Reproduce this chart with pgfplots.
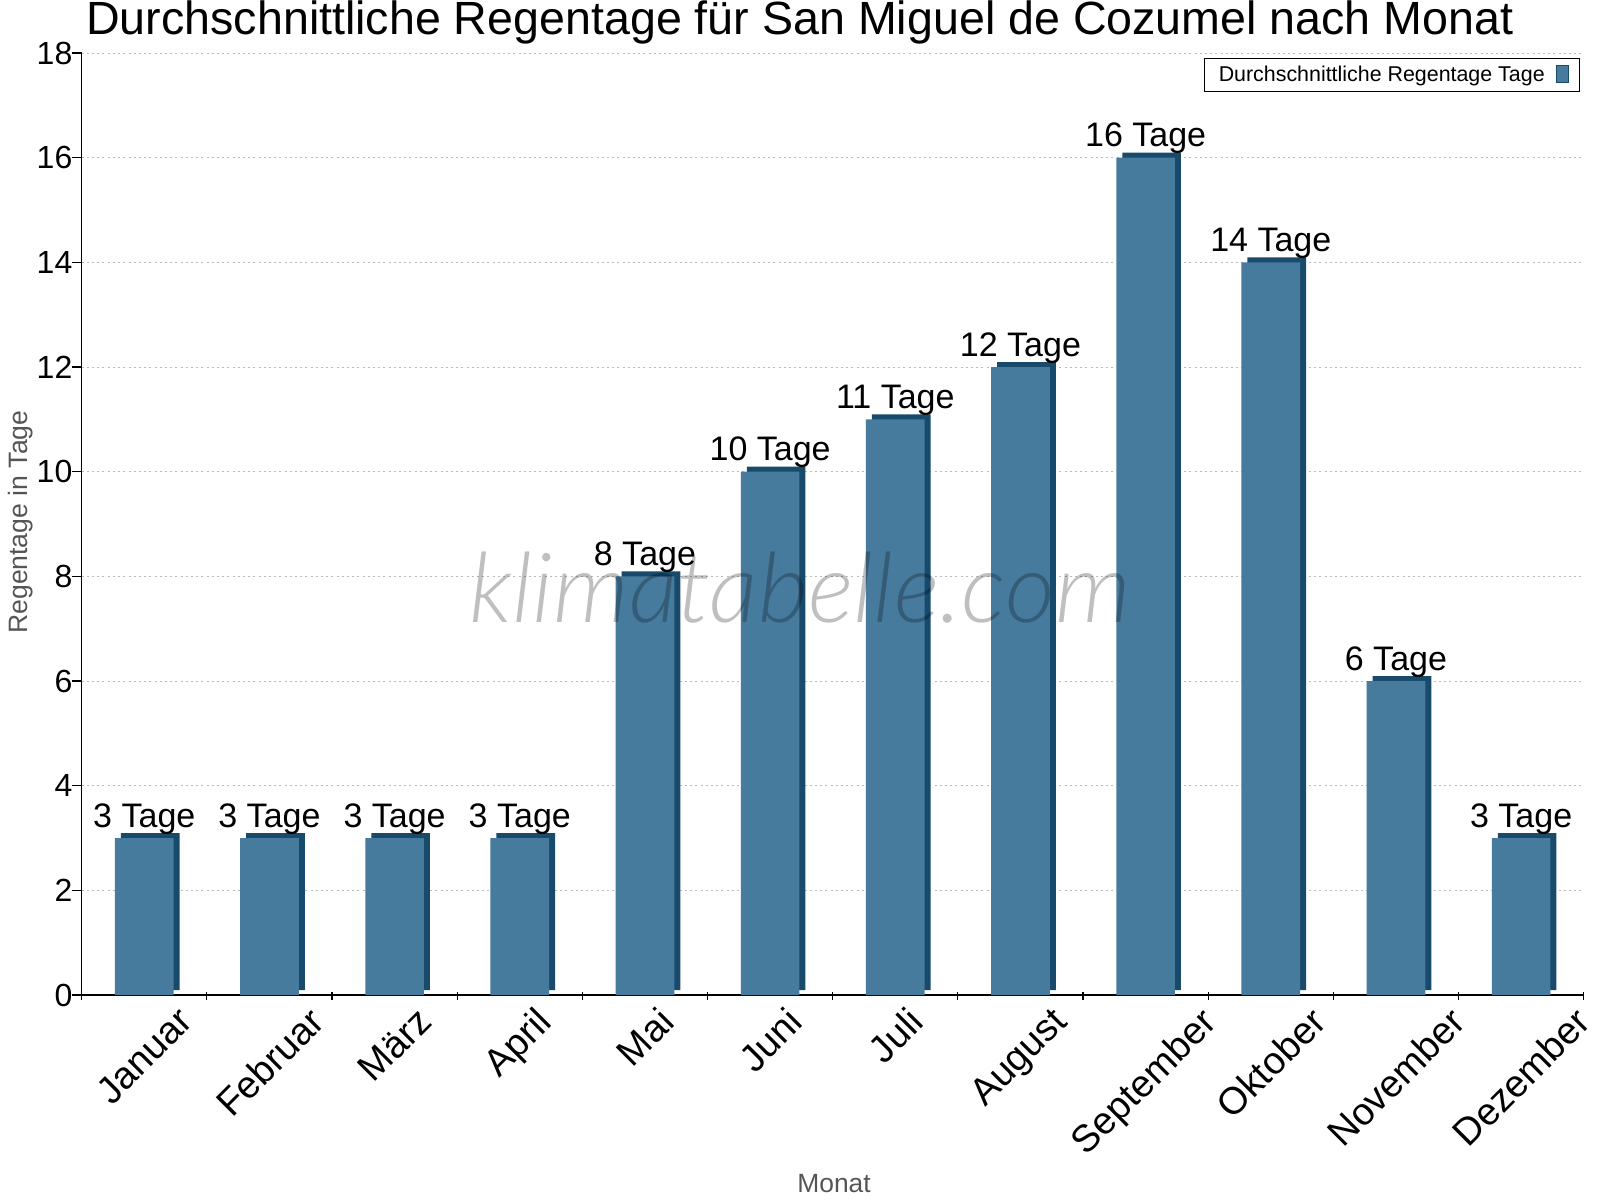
\documentclass[border=0pt]{standalone}
\usepackage{pgfplots}
\pgfplotsset{compat=1.18}
\usepackage{fontspec}
\setmainfont{Liberation Sans}
\newfontfamily\wmfont{Lato Light Italic}
\definecolor{barfront}{HTML}{467B9E}
\definecolor{bardark}{HTML}{184A6B}
\definecolor{lblgray}{HTML}{555555}
\definecolor{gridgray}{HTML}{BBBBBB}
\pgfplotstableread{
x y
0 3
1 3
2 3
3 3
4 8
5 10
6 11
7 12
8 16
9 14
10 6
11 3
}\regentage
\begin{document}
\begin{tikzpicture}
\useasboundingbox (-40.85pt,-102.5pt) rectangle (759.15pt,497.5pt);
\begin{axis}[
  at={(0,0)}, anchor=south west,
  scale only axis, width=751pt, height=471pt,
  /pgf/number format/assume math mode=true,
  xmin=-0.5, xmax=11.5, ymin=0, ymax=18,
  ytick={0,2,...,18},
  xtick={0,...,11},
  xticklabels={\rotatebox{45}{Januar},\rotatebox{45}{Februar},\rotatebox{45}{März},\rotatebox{45}{April},\rotatebox{45}{Mai},\rotatebox{45}{Juni},\rotatebox{45}{Juli},\rotatebox{45}{August},\rotatebox{45}{September},\rotatebox{45}{Oktober},\rotatebox{45}{November},\rotatebox{45}{Dezember}},
  minor xtick={-0.5,0.5,...,11.5},
  major x tick style={draw=none},
  axis x line=bottom, axis y line=left,
  axis line style={-, black, line width=0.6pt},
  tick style={black, line width=0.6pt},
  minor tick length=4pt,
  major tick length=5pt,
  tick align=outside,
  minor x tick style={yshift=1.5pt},
  yticklabel style={anchor=east, inner sep=0pt, xshift=0.5pt, font=\fontsize{16}{19}\selectfont},
  xticklabel style={anchor=north, inner sep=0pt, yshift=0pt, font=\fontsize{19}{22}\selectfont},
  ymajorgrids=true,
  grid style={gridgray, line width=0.5pt, dash pattern=on 1pt off 1.6pt},
  title={Durchschnittliche Regentage für San Miguel de Cozumel nach Monat},
  title style={at={(axis description cs:0.4782,1.0064)}, anchor=base, inner sep=0pt, font=\fontsize{23.3}{27}\selectfont},
  ylabel={Regentage in Tage},
  ylabel style={at={(axis description cs:-0.0408,0.502)}, anchor=center, rotate=0, inner sep=0pt, font=\fontsize{13.3}{15}\selectfont, text=lblgray},
  xlabel={Monat},
  xlabel style={at={(axis description cs:0.5009,-0.2006)}, anchor=center, inner sep=0pt, font=\fontsize{13.2}{15}\selectfont, text=lblgray},
  legend style={at={(axis description cs:1,1)}, anchor=north east, xshift=-2pt, yshift=-2.5pt, draw=black, line width=0.5pt, font=\fontsize{10.7}{12}\selectfont, inner xsep=5pt, inner ysep=1.5pt},
  legend plot pos=right,
  legend image code/.code={\path (0pt,0pt); \draw[fill=barfront, draw=bardark, line width=0.5pt] (4pt,-4pt) rectangle (10pt,4.5pt);},
]
\addplot[ybar, bar width=29.3pt, bar shift=3pt, yshift=2.5pt, fill=bardark, draw=none, forget plot] table[x=x,y=y] {\regentage};
\addplot[ybar, bar width=29.3pt, bar shift=0pt, fill=barfront, draw=none,
  nodes near coords={\pgfmathprintnumber{\pgfplotspointmeta}~Tage},
  every node near coord/.append style={anchor=base, yshift=5.5pt, inner sep=0pt, font=\fontsize{17}{20}\selectfont, text=black}] table[x=x,y=y] {\regentage};
\addlegendentry{Durchschnittliche Regentage Tage}
\node[anchor=base, opacity=0.25, font=\wmfont\fontsize{48.5}{54}\selectfont] at (axis description cs:0.4782,0.395) {klimatabelle.com};
\end{axis}
\end{tikzpicture}
\end{document}
